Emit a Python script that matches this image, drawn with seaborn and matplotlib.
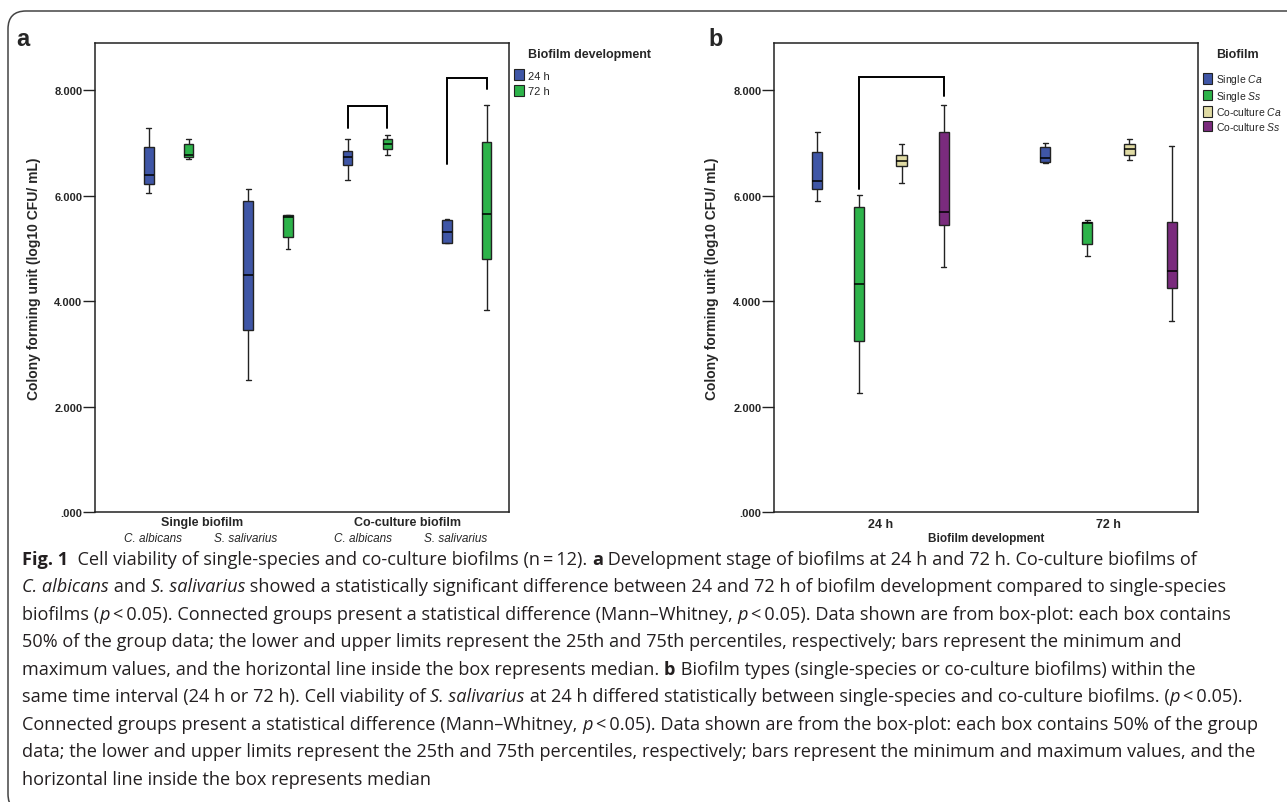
import numpy as np
import pandas as pd
import matplotlib
matplotlib.use("Agg")
import matplotlib.pyplot as plt
import seaborn as sns
from matplotlib.patches import FancyBboxPatch, Patch
from matplotlib.transforms import IdentityTransform, blended_transform_factory

# ==========================================
# data: five-number summaries
# order inside each box: min, q1, median, q3, max (log10 CFU/mL)
# ==========================================
A_CATEGORIES = ["Single C. albicans", "Single S. salivarius",
                "Co-culture C. albicans", "Co-culture S. salivarius"]
A_HUES = ["24 h", "72 h"]
A_24H = [[6.05, 6.23, 6.40, 6.93, 7.29],
         [2.50, 3.45, 4.50, 5.90, 6.12],
         [6.30, 6.59, 6.73, 6.86, 7.07],
         [5.11, 5.11, 5.32, 5.54, 5.56]]
A_72H = [[6.70, 6.73, 6.78, 6.99, 7.07],
         [5.00, 5.21, 5.59, 5.63, 5.64],
         [6.77, 6.88, 6.99, 7.07, 7.15],
         [3.84, 4.80, 5.66, 7.03, 7.72]]
A_GROUP_LABELS = ["Single biofilm", "Co-culture biofilm"]
A_SPECIES_LABELS = ["C. albicans", "S. salivarius", "C. albicans", "S. salivarius"]
# (category, hue 1, hue 2, left leg bottom, top, right leg bottom)
A_BRACKETS = [(2, 0, 1, 7.29, 7.70, 7.29),
              (3, 0, 1, 6.60, 8.23, 8.03)]

B_CATEGORIES = ["24 h", "72 h"]
B_HUES = ["Single Ca", "Single Ss", "Co-culture Ca", "Co-culture Ss"]
B_HUE_LABELS = ["Single $\\it{Ca}$", "Single $\\it{Ss}$",
                "Co-culture $\\it{Ca}$", "Co-culture $\\it{Ss}$"]
B_SINGLE_CA = [[5.91, 6.13, 6.28, 6.83, 7.22], [6.62, 6.65, 6.72, 6.92, 7.01]]
B_SINGLE_SS = [[2.25, 3.24, 4.33, 5.79, 6.02], [4.85, 5.08, 5.49, 5.51, 5.54]]
B_COCULT_CA = [[6.24, 6.57, 6.67, 6.78, 6.98], [6.68, 6.78, 6.89, 6.99, 7.08]]
B_COCULT_SS = [[4.65, 5.44, 5.70, 7.21, 7.72], [3.63, 4.25, 4.57, 5.50, 6.94]]
B_BRACKETS = [(0, 1, 3, 6.12, 8.25, 7.90)]

Y_TICKS = [0, 2, 4, 6, 8]

BLUE = "#3F56A6"
GREEN = "#2DB34A"
BEIGE = "#E0DBA4"
PURPLE = "#7A2B7D"
EDGE = "#222222"

CAPTION = [
    [("Fig. 1", "bold"), ("  Cell viability of single-species and co-culture biofilms (n\u2009=\u200912). ", "normal"),
     ("a", "bold"), (" Development stage of biofilms at 24 h and 72 h. Co-culture biofilms of", "normal")],
    [("C. albicans", "italic"), (" and ", "normal"), ("S. salivarius", "italic"),
     (" showed a statistically significant difference between 24 and 72 h of biofilm development compared to single-species", "normal")],
    [("biofilms (", "normal"), ("p", "italic"),
     ("\u2009<\u20090.05). Connected groups present a statistical difference (Mann\u2013Whitney, ", "normal"),
     ("p", "italic"), ("\u2009<\u20090.05). Data shown are from box-plot: each box contains", "normal")],
    [("50% of the group data; the lower and upper limits represent the 25th and 75th percentiles, respectively; bars represent the minimum and", "normal")],
    [("maximum values, and the horizontal line inside the box represents median. ", "normal"), ("b", "bold"),
     (" Biofilm types (single-species or co-culture biofilms) within the", "normal")],
    [("same time interval (24 h or 72 h). Cell viability of ", "normal"), ("S. salivarius", "italic"),
     (" at 24 h differed statistically between single-species and co-culture biofilms. (", "normal"),
     ("p", "italic"), ("\u2009<\u20090.05).", "normal")],
    [("Connected groups present a statistical difference (Mann\u2013Whitney, ", "normal"), ("p", "italic"),
     ("\u2009<\u20090.05). Data shown are from the box-plot: each box contains 50% of the group", "normal")],
    [("data; the lower and upper limits represent the 25th and 75th percentiles, respectively; bars represent the minimum and maximum values, and the", "normal")],
    [("horizontal line inside the box represents median", "normal")],
]

# ==========================================
# style
# ==========================================
sns.set_style("white")
plt.rcParams['font.family'] = ['Liberation Sans', 'DejaVu Sans']
plt.rcParams['mathtext.fontset'] = 'custom'
plt.rcParams['mathtext.rm'] = 'Liberation Sans'
plt.rcParams['mathtext.it'] = 'Liberation Sans:italic'
CAPTION_FONT = ['Open Sans', 'DejaVu Sans']

W, H = 1287, 803


def long_frame(categories, hues, series):
    rows = []
    for hue, boxes in zip(hues, series):
        for cat, five in zip(categories, boxes):
            for v in five:
                rows.append({"cat": cat, "hue": hue, "val": v})
    return pd.DataFrame(rows)


def fmt_tick(v):
    s = f"{v:.3f}"
    return s[1:] if s.startswith("0") else s


def style_axes(ax, xlim):
    ax.set_ylim(0, 8.9)
    ax.set_xlim(*xlim)
    ax.set_yticks(Y_TICKS)
    ax.set_yticklabels([fmt_tick(v) for v in Y_TICKS], fontsize=8, fontweight="bold")
    ax.tick_params(axis="y", left=True, length=8.5, width=1, color=EDGE, pad=0.5)
    ax.tick_params(axis="x", bottom=False, length=0)
    for sp in ax.spines.values():
        sp.set_linewidth(1.1)
        sp.set_color(EDGE)
    ax.set_ylabel("Colony forming unit (log10 CFU/ mL)", fontsize=10, fontweight="bold")
    ax.set_xlabel("")


def draw_brackets(ax, brackets, offsets):
    for cat, h1, h2, y1, top, y2 in brackets:
        x1 = cat + offsets[h1]
        x2 = cat + offsets[h2]
        ax.plot([x1, x1, x2, x2], [y1, top, top, y2], color="black", lw=1.4,
                solid_joinstyle="miter", zorder=5)


box_kw = dict(saturation=1, whis=(0, 100), gap=0.76, linecolor=EDGE, linewidth=1.0,
              fliersize=0, legend=False, medianprops={"color": "black", "linewidth": 1.1})

fig = plt.figure(figsize=(W / 100, H / 100), dpi=100)

# ---------------- panel a ----------------
ax_a = fig.add_axes([95 / W, 1 - 513 / H, 414 / W, 469 / H])
df_a = long_frame(A_CATEGORIES, A_HUES, [A_24H, A_72H])
pal_a = dict(zip(A_HUES, [BLUE, GREEN]))
sns.boxplot(data=df_a, x="cat", y="val", hue="hue", order=A_CATEGORIES, hue_order=A_HUES,
            palette=pal_a, width=0.8, ax=ax_a, **box_kw)
style_axes(ax_a, (-0.742, 3.425))
ax_a.set_xticks(range(len(A_CATEGORIES)))
ax_a.set_xticklabels([])
ax_a.yaxis.set_label_coords(-0.131, 0.5)
tr_a = blended_transform_factory(ax_a.transData, ax_a.transAxes)
# SPSS places the nested labels slightly left of the box pairs
for i, lab in enumerate(A_SPECIES_LABELS):
    shift = -0.16 if i % 2 == 0 else -0.23
    if i >= 2:
        shift += 0.12
    ax_a.text(i + shift, -0.056, lab, transform=tr_a, ha="center", va="center",
              fontsize=8.5, fontstyle="italic")
for j, lab in enumerate(A_GROUP_LABELS):
    ax_a.text(2 * j + 0.5 - (0.16 if j == 0 else 0.1), -0.022, lab, transform=tr_a,
              ha="center", va="center", fontsize=9, fontweight="bold")
draw_brackets(ax_a, A_BRACKETS, [-0.2, 0.2])

# ---------------- panel b ----------------
ax_b = fig.add_axes([774 / W, 1 - 513 / H, 424 / W, 469 / H])
df_b = long_frame(B_CATEGORIES, B_HUES, [B_SINGLE_CA, B_SINGLE_SS, B_COCULT_CA, B_COCULT_SS])
pal_b = dict(zip(B_HUES, [BLUE, GREEN, BEIGE, PURPLE]))
width_b = 0.74
sns.boxplot(data=df_b, x="cat", y="val", hue="hue", order=B_CATEGORIES, hue_order=B_HUES,
            palette=pal_b, width=width_b, ax=ax_b, **box_kw)
style_axes(ax_b, (-0.467, 1.393))
ax_b.set_xticks(range(len(B_CATEGORIES)))
ax_b.set_xticklabels(B_CATEGORIES, fontsize=9, fontweight="bold")
ax_b.tick_params(axis="x", pad=4)
ax_b.set_xlabel("Biofilm development", fontsize=8.5, fontweight="bold", labelpad=2)
ax_b.yaxis.set_label_coords(-0.130, 0.5)
slot = width_b / len(B_HUES)
draw_brackets(ax_b, B_BRACKETS, [(k - 1.5) * slot for k in range(len(B_HUES))])

# ---------------- legends ----------------
fig.text(528 / W, 1 - 55 / H, "Biofilm development", fontsize=9, fontweight="bold", va="center")
h_a = [Patch(facecolor=pal_a[h], edgecolor=EDGE, lw=0.8) for h in A_HUES]
fig.legend(h_a, A_HUES, loc="upper left", bbox_to_anchor=(510 / W, 1 - 66 / H),
           frameon=False, fontsize=8, handlelength=0.85, handleheight=1.15,
           handletextpad=0.35, labelspacing=0.35, borderaxespad=0)

fig.text(1216 / W, 1 - 55 / H, "Biofilm", fontsize=9, fontweight="bold", va="center")
h_b = [Patch(facecolor=pal_b[h], edgecolor=EDGE, lw=0.8) for h in B_HUES]
fig.legend(h_b, B_HUE_LABELS, loc="upper left", bbox_to_anchor=(1199 / W, 1 - 69 / H),
           frameon=False, fontsize=7.5, handlelength=0.85, handleheight=1.15,
           handletextpad=0.35, labelspacing=0.24, borderaxespad=0)

# panel letters
fig.text(16 / W, 1 - 39 / H, "a", fontsize=17, fontweight="bold", va="center")
fig.text(708 / W, 1 - 39 / H, "b", fontsize=17, fontweight="bold", va="center")

# ---------------- frame + caption ----------------
frame = FancyBboxPatch((8, -10), 1400, 801, boxstyle="round,pad=0,rounding_size=18",
                       transform=IdentityTransform(), fill=False, lw=1.1, ec="#444444")
fig.patches.append(frame)

renderer = fig.canvas.get_renderer()
cap_size = 13.1
y0 = 560
for n, line in enumerate(CAPTION):
    x = 22.0
    y = y0 + n * 27.5
    for txt, style in line:
        t = fig.text(x / W, 1 - y / H, txt, fontsize=cap_size, va="center",
                     family=CAPTION_FONT,
                     fontweight="bold" if style == "bold" else "normal",
                     fontstyle="italic" if style == "italic" else "normal",
                     color="#231f20")
        x += t.get_window_extent(renderer).width

fig.savefig("out.png", dpi=100)
